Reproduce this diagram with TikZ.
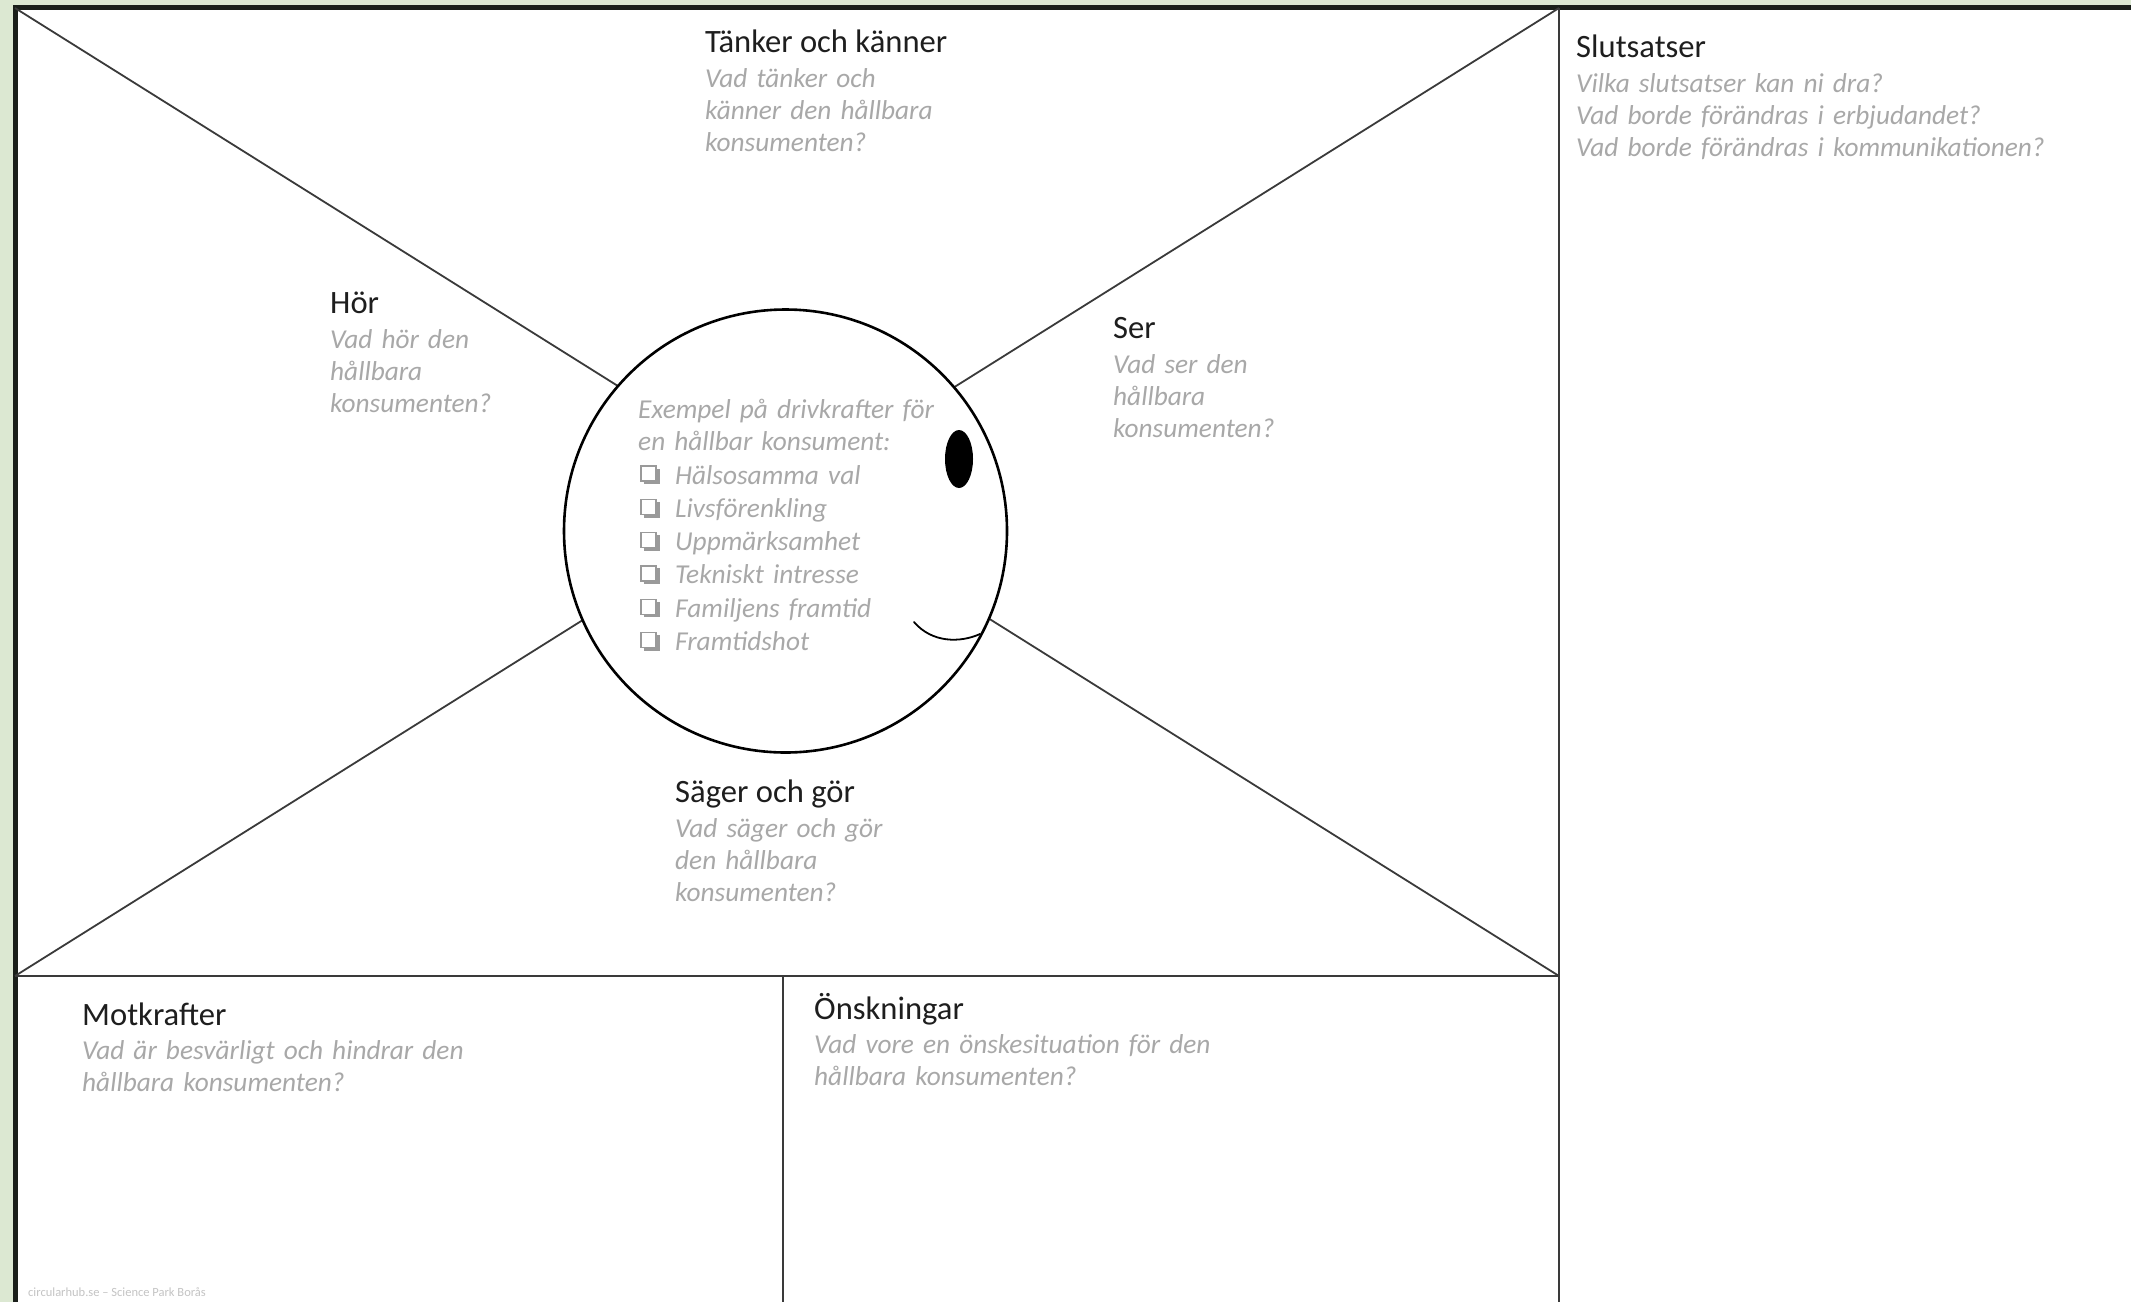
\documentclass[tikz,border=0pt]{standalone}
\usepackage{fontspec}
\setmainfont{Carlito}
\definecolor{pagegreen}{HTML}{DCE8D2}
\definecolor{framedark}{HTML}{1A1F1A}
\definecolor{linegray}{HTML}{3A3A3A}
\definecolor{titleink}{HTML}{1E1E1E}
\definecolor{hintgray}{HTML}{A8A8A8}
\definecolor{boxgray}{HTML}{9A9A9A}
\definecolor{footgray}{HTML}{C4C4C4}
\newcommand{\titlesize}{\fontsize{32.6}{38}\selectfont}
\newcommand{\hintsize}{\fontsize{27.3}{32.3}\selectfont\itshape}
\begin{document}
\begin{tikzpicture}[x=1pt,y=-1pt,
  heading/.style={anchor=base west,inner sep=0pt,font=\titlesize,text=titleink},
  hint/.style={anchor=base west,inner sep=0pt,align=left,text width=#1,font=\hintsize,text=hintgray},
  hint/.default=300pt,
  divider/.style={draw=linegray,line width=2.2pt},
  cross/.style={draw=linegray,line width=1.8pt},
  tickbox/.style={draw=boxgray,line width=1.2pt}]
\useasboundingbox (0,0) rectangle (2131,1302);
% page background and outer frame
\fill[pagegreen] (0,0) rectangle (2131,1302);
\fill[white] (15,7) rectangle (2131,1302);
\draw[framedark,line width=5pt] (15,1302) -- (15,7) -- (2131,7);
% main panel corners
\coordinate (tl) at (15,8);
\coordinate (tr) at (1559,8);
\coordinate (bl) at (15,976);
\coordinate (br) at (1559,976);
\coordinate (mid) at (783,976);
\coordinate (midbot) at (783,1302);
\coordinate (rtop) at (1559,8);
\coordinate (rbot) at (1559,1302);
% the big X of the empathy map
\draw[cross] (tl) -- (br);
\draw[cross] (tr) -- (bl);
% section dividers
\draw[divider] (bl) -- (br);
\draw[divider] (rtop) -- (rbot);
\draw[divider] (mid) -- (midbot);
% the head in the middle
\node[circle,draw=black,line width=2.6pt,fill=white,minimum size=443pt,inner sep=0pt] (head) at (785.5,531) {};
\fill[black] (959,459) ellipse [x radius=14,y radius=29];
\coordinate (smileA) at (914,622);
\coordinate (smileB) at (980,634);
\draw[black,line width=1.8pt,line cap=round] (smileA) .. controls (932,643) and (960,643) .. (smileB);
% quadrant labels
\node[heading] (tanker) at (705,52) {Tänker och känner};
\node[hint=300pt] (tankerq) at (705,87) {Vad tänker och\\känner den hållbara\\konsumenten?};
\node[heading] (hor) at (330,313) {Hör};
\node[hint=250pt] (horq) at (330,348) {Vad hör den\\hållbara\\konsumenten?};
\node[heading] (ser) at (1113,338) {Ser};
\node[hint=250pt] (serq) at (1113,373) {Vad ser den\\hållbara\\konsumenten?};
\node[heading] (sager) at (675,802) {Säger och gör};
\node[hint=300pt] (sagerq) at (675,837) {Vad säger och gör\\den hållbara\\konsumenten?};
\node[heading] (mot) at (82,1025) {Motkrafter};
\node[hint=500pt] (motq) at (82,1059) {Vad är besvärligt och hindrar den\\hållbara konsumenten?};
\node[heading] (onsk) at (814,1019) {Önskningar};
\node[hint=500pt] (onskq) at (814,1053) {Vad vore en önskesituation för den\\hållbara konsumenten?};
\node[heading] (slut) at (1576,57) {Slutsatser};
\node[hint=540pt] (slutq) at (1576,92) {Vilka slutsatser kan ni dra?\\Vad borde förändras i erbjudandet?\\Vad borde förändras i kommunikationen?};
% driving forces inside the head
\node[hint=330pt] (drivers) at (638,418) {Exempel på drivkrafter för\\en hållbar konsument:};
\node[anchor=base west,inner sep=0pt,align=left,text width=300pt,font=\fontsize{27.3}{33.3}\selectfont\itshape,text=hintgray] (driverlist) at (675,484)
  {Hälsosamma val\\Livsförenkling\\Uppmärksamhet\\Tekniskt intresse\\Familjens framtid\\Framtidshot};
\foreach \i in {0,...,5}{
  \pgfmathsetmacro{\by}{484+33.3*\i}
  \draw[boxgray,line width=2.4pt] (643.5,\by-1) -- (658.5,\by-1) -- (658.5,\by-15.5);
  \draw[tickbox,fill=white] (641,\by-18) rectangle (656,\by-3);
}
% footer
\node[anchor=base west,inner sep=0pt,font=\fontsize{12.5}{14}\selectfont,text=footgray] (foot) at (28,1296) {circularhub.se – Science Park Borås};
\end{tikzpicture}
\end{document}
